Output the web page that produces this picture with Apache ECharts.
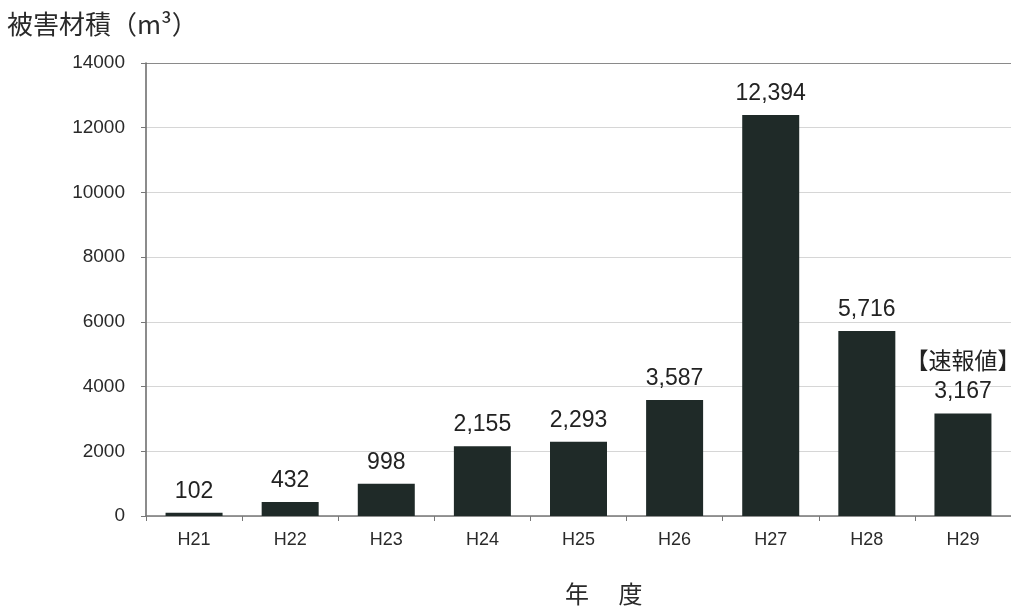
<!DOCTYPE html>
<html>
<head>
<meta charset="utf-8">
<script src="https://cdn.jsdelivr.net/npm/echarts@6/dist/echarts.min.js"></script>
<style>
  html, body { margin: 0; padding: 0; background: #fff; }
  #chart { width: 1011px; height: 612px; }
</style>
</head>
<body>
<div id="chart"></div>
<script>
// Fiscal years (Heisei era)
const years = ['H21', 'H22', 'H23', 'H24', 'H25', 'H26', 'H27', 'H28', 'H29'];
// Damaged timber volume (m3)
const volumes = [102, 432, 998, 2155, 2293, 3587, 12394, 5716, 3167];
// Year whose figure is preliminary
const preliminaryYear = 'H29';
const yTicks = { min: 0, max: 14000, interval: 2000 };

const fmt = v => v.toLocaleString('en-US');
const gridColors = ['#d6d6d6', '#d6d6d6', '#d6d6d6', '#d6d6d6', '#d6d6d6', '#d6d6d6', '#d6d6d6', '#8a8a8a'];

const chart = echarts.init(document.getElementById('chart'));
chart.setOption({
  animation: false,
  textStyle: { fontFamily: 'Liberation Sans, Arial, "Noto Sans CJK JP", sans-serif' },
  graphic: [
    {
      type: 'text', left: 7, top: 11,
      style: { text: '被害材積（m³）', fontSize: 26, fill: '#2a2a2a', fontFamily: '"Noto Sans CJK JP", sans-serif' }
    },
    {
      type: 'text', left: 565, top: 582,
      style: { text: '年　 度', fontSize: 24, fill: '#2a2a2a', fontFamily: '"Noto Sans CJK JP", sans-serif' }
    }
  ],
  grid: { left: 146, top: 63, width: 866, height: 453, containLabel: false },
  xAxis: {
    type: 'category',
    data: years,
    axisLine: { lineStyle: { color: '#777', width: 1.5 } },
    axisTick: { show: true, length: 5, lineStyle: { color: '#777' } },
    axisLabel: { color: '#2a2a2a', fontSize: 18, margin: 15 }
  },
  yAxis: {
    type: 'value',
    min: yTicks.min, max: yTicks.max, interval: yTicks.interval,
    axisLine: { show: true, lineStyle: { color: '#666', width: 1.5 } },
    axisTick: { show: true, length: 5, lineStyle: { color: '#777' } },
    axisLabel: { color: '#2a2a2a', fontSize: 19, margin: 21, formatter: v => String(v) },
    splitLine: { lineStyle: { color: gridColors, width: 1.2 } }
  },
  series: [{
    type: 'bar',
    data: volumes,
    barWidth: 57,
    itemStyle: { color: '#1f2a28' },
    label: {
      show: true,
      position: 'top',
      distance: 7,
      color: '#222',
      fontSize: 23,
      lineHeight: 29,
      formatter: p => p.name === preliminaryYear
        ? '【速報値】\n' + fmt(p.value)
        : fmt(p.value)
    }
  }]
});
</script>
</body>
</html>
